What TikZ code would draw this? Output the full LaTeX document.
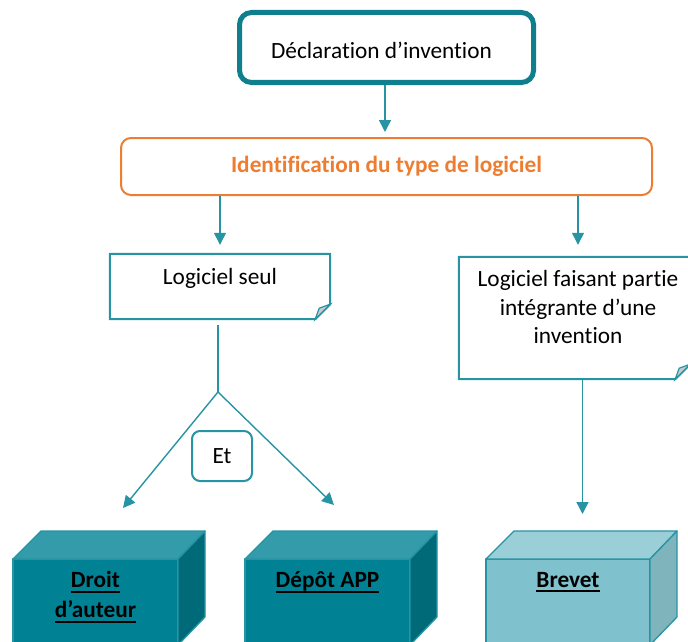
\documentclass[tikz,border=0pt]{standalone}
\usepackage{fontspec}
\setmainfont[Ligatures={NoCommon}]{Carlito}
\usetikzlibrary{arrows.meta,calc}

\definecolor{tealdark}{RGB}{16,127,141}
\definecolor{tealline}{RGB}{38,148,163}
\definecolor{orangeline}{RGB}{237,125,49}
\definecolor{foldgray}{RGB}{196,204,208}
\definecolor{blockfront}{RGB}{0,130,148}
\definecolor{blocktop}{RGB}{51,155,170}
\definecolor{blockside}{RGB}{0,106,121}
\definecolor{lightfront}{RGB}{127,193,204}
\definecolor{lighttop}{RGB}{155,207,216}
\definecolor{lightside}{RGB}{128,180,189}

\newcommand\diagfont{\fontsize{23.3}{28.5}\selectfont}
% underline with a thicker rule than \underline gives
\newcommand\ulbox[1]{\setbox0=\hbox{#1}\rlap{\copy0}\rule[-5pt]{\wd0}{2pt}}

% a 3D block: #1 left x, #2 right x of the front face, #3 front, #4 top, #5 side fill
\newcommand\solidblock[5]{%
  \filldraw[blockedge, fill=#3] (#1,559) rectangle (#2,645);
  \filldraw[blockedge, fill=#4] (#1,559) -- ++(28,-28) -- (#2+27,531) -- (#2,559) -- cycle;
  \filldraw[blockedge, fill=#5] (#2,559) -- ++(27,-28) -- ++(0,86) -- (#2,645) -- cycle;}

\tikzset{
  blockedge/.style={draw=tealline, line width=1.3pt, line join=round},
  conn/.style={draw=tealline, line width=1.4pt},
  arr/.style={conn, -{Triangle[length=12pt,width=12pt]}},
  noteline/.style={draw=tealline, line width=2pt, line join=miter},
  blocktext/.style={font=\diagfont\bfseries, align=center, text=black},
}

\begin{document}
\begin{tikzpicture}[x=1pt,y=-1pt]
\useasboundingbox (0,0) rectangle (688,642);
\clip (0,0) rectangle (688,642);

% top box
\node[draw=tealdark, line width=5pt, rounded corners=12pt, minimum width=294pt,
      minimum height=70pt, text height=22pt, font=\diagfont] (decl) at (386.5,47.5)
      {Déclaration d’invention\hspace*{10pt}};

% classification box
\node[draw=orangeline, line width=2pt, rounded corners=10pt, minimum width=531pt,
      minimum height=57pt, font=\diagfont\bfseries, text=orangeline] (ident) at (386.5,166.5)
      {Identification du type de logiciel};

% note: software alone
\node[minimum width=220pt, minimum height=65pt, inner sep=0pt] (seul) at (220,286.5) {};
\draw[noteline, fill=white] (seul.north west) -- (seul.north east)
  -- ($(seul.south east)+(0,-15)$) -- ($(seul.south east)+(-15,0)$)
  -- (seul.south west) -- cycle;
\filldraw[draw=tealline, line width=1.2pt, fill=foldgray]
  ($(seul.south east)+(0,-15)$) -- ($(seul.south east)+(-15,0)$)
  -- ($(seul.south east)+(-11,-11)$) -- cycle;
\node[font=\diagfont] (seulTxt) at (220,278) {Logiciel seul};

% note: software within an invention
\node[minimum width=231pt, minimum height=122pt, inner sep=0pt] (partie) at (574.5,318) {};
\draw[noteline, fill=white] (partie.north west) -- (partie.north east)
  -- ($(partie.south east)+(0,-15)$) -- ($(partie.south east)+(-15,0)$)
  -- (partie.south west) -- cycle;
\filldraw[draw=tealline, line width=1.2pt, fill=foldgray]
  ($(partie.south east)+(0,-15)$) -- ($(partie.south east)+(-15,0)$)
  -- ($(partie.south east)+(-11,-11)$) -- cycle;
\node[font=\diagfont, align=center] (partieTxt) at (578,307)
  {Logiciel faisant partie\\intégrante d’une\\invention};

% "and" label
\node[draw=tealline, line width=2pt, rounded corners=8pt, minimum width=60pt,
      minimum height=50pt, font=\diagfont] (et) at (222,456) {Et};

% blocks
\solidblock{13}{178}{blockfront}{blocktop}{blockside}
\solidblock{245}{410}{blockfront}{blocktop}{blockside}
\solidblock{486}{650}{lightfront}{lighttop}{lightside}
\node[blocktext] (droit) at (95.5,597) {\ulbox{Droit}\\[1.5pt]\ulbox{d’auteur}};
\node[blocktext] (depot) at (327.5,582) {\ulbox{Dépôt APP}};
\node[blocktext] (brevet) at (568,582) {\ulbox{Brevet}};

% connectors
\coordinate (split) at (218,392);
\coordinate (tipL) at (123,508);
\coordinate (tipR) at (334,505);
\coordinate (tipB) at (582.5,514);

\draw[arr, shorten >=5pt] (decl.south -| 385,0) -- (ident.north -| 385,0);
\draw[arr, shorten >=9pt] (seul.north |- ident.south) -- (seul.north);
\draw[arr, shorten >=12pt] ([xshift=3.5pt]partie.north |- ident.south) -- ([xshift=3.5pt]partie.north);
\draw[conn] ([yshift=-6pt]split |- seul.south) -- (split);
\draw[arr] (split) -- (tipL);
\draw[arr] (split) -- (tipR);
\draw[arr] (tipB |- partie.south) -- (tipB);
\end{tikzpicture}
\end{document}
